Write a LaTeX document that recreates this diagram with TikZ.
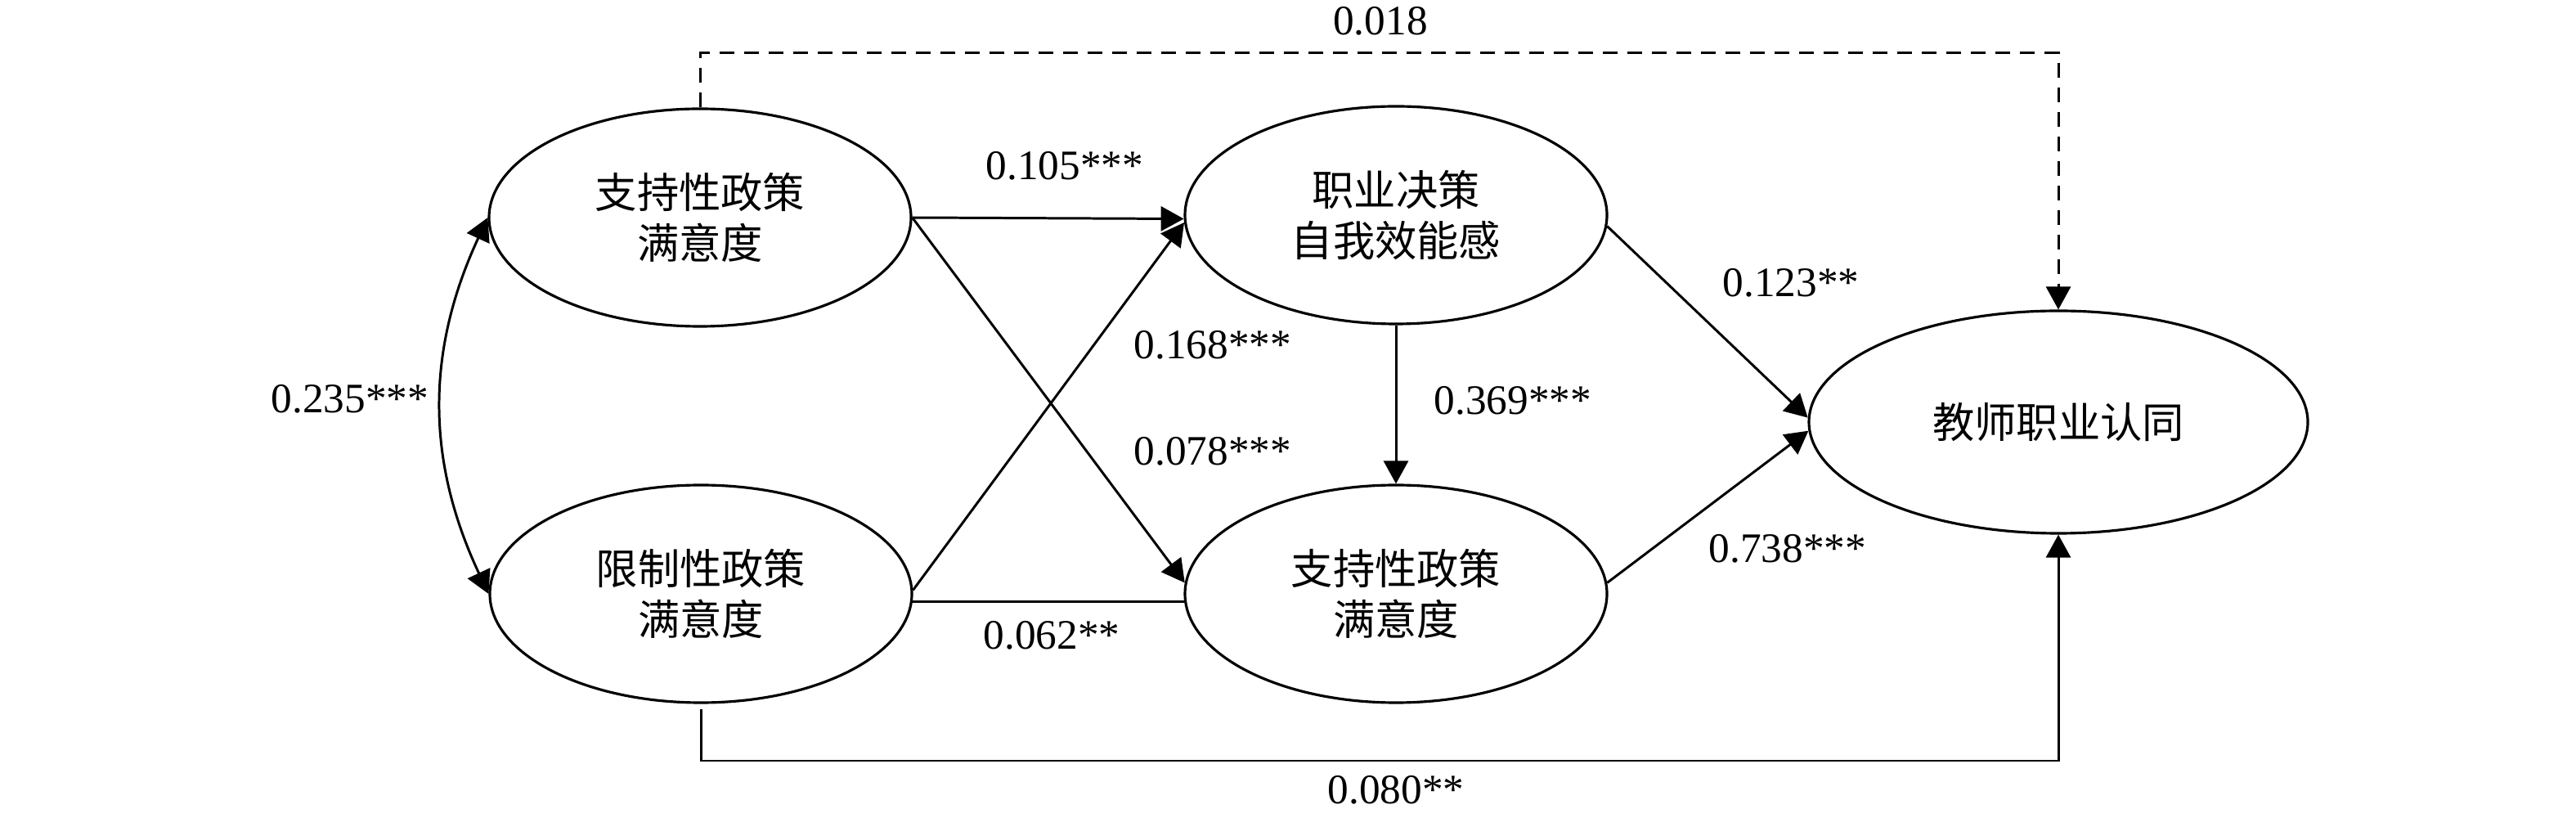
\documentclass[tikz,border=0pt]{standalone}
\usepackage{fontspec}
\setmainfont{Liberation Serif}
\newfontfamily\cjk{Noto Sans CJK SC}
\usetikzlibrary{shapes.geometric,arrows.meta}
\tikzset{
  var/.style={draw, line width=0.9pt, ellipse, inner sep=0pt, minimum width=5.16cm, minimum height=2.66cm, align=center, font=\cjk\fontsize{14.6}{17.8}\selectfont},
  tip/.tip={Triangle[length=0.28cm,width=0.3cm]},
  path/.style={line width=0.85pt, -tip},
  plain/.style={line width=0.85pt},
  lab/.style={font=\fontsize{14.6}{17.6}\selectfont, inner sep=0pt}
}
\begin{document}
\begin{tikzpicture}
\useasboundingbox (0,0) rectangle (31.5,-10);
\node[var] (A) at (8.56,-2.66) {支持性政策\\满意度};
\node[var] (B) at (8.57,-7.26) {限制性政策\\满意度};
\node[var] (C) at (17.07,-2.63) {职业决策\\自我效能感};
\node[var] (D) at (17.07,-7.26) {支持性政策\\满意度};
\node[var, minimum width=6.10cm, minimum height=2.72cm] (E) at (25.17,-5.16) {教师职业认同};
\coordinate (topy) at (0,-0.65);
\coordinate (boty) at (0,-9.30);
\draw[path] (A.east) -- (C.181);
\draw[path] (A.east) -- (D.177);
\draw[path] (B.1) -- (C.182);
\draw[plain] (B.-2.4) -- (D.182.4);
\draw[path] (C.south) -- (D.north);
\draw[path] (C.-3) -- (E.179);
\draw[path] (D.3) -- (E.182);
\draw[path, dash pattern=on 0.18cm off 0.12cm] (A.north) -- (A.north |- topy) -| (E.north);
\draw[path] (B.south) ++(0,-0.06) coordinate (Bs) -- (Bs |- boty) -| (E.south);
\draw[line width=0.85pt, tip-tip] (A.west) to[bend right=25] (B.west);
\node[lab] (l1) at (16.88,-0.26) {0.018};
\node[lab] (l2) at (13.02,-2.03) {0.105***};
\node[lab] (l3) at (14.83,-4.22) {0.168***};
\node[lab] (l4) at (18.50,-4.90) {0.369***};
\node[lab] (l5) at (14.83,-5.52) {0.078***};
\node[lab] (l6) at (21.90,-3.46) {0.123**};
\node[lab] (l7) at (21.86,-6.71) {0.738***};
\node[lab] (l8) at (12.86,-7.77) {0.062**};
\node[lab] (l9) at (17.07,-9.66) {0.080**};
\node[lab] (l10) at (4.28,-4.88) {0.235***};
\end{tikzpicture}
\end{document}
